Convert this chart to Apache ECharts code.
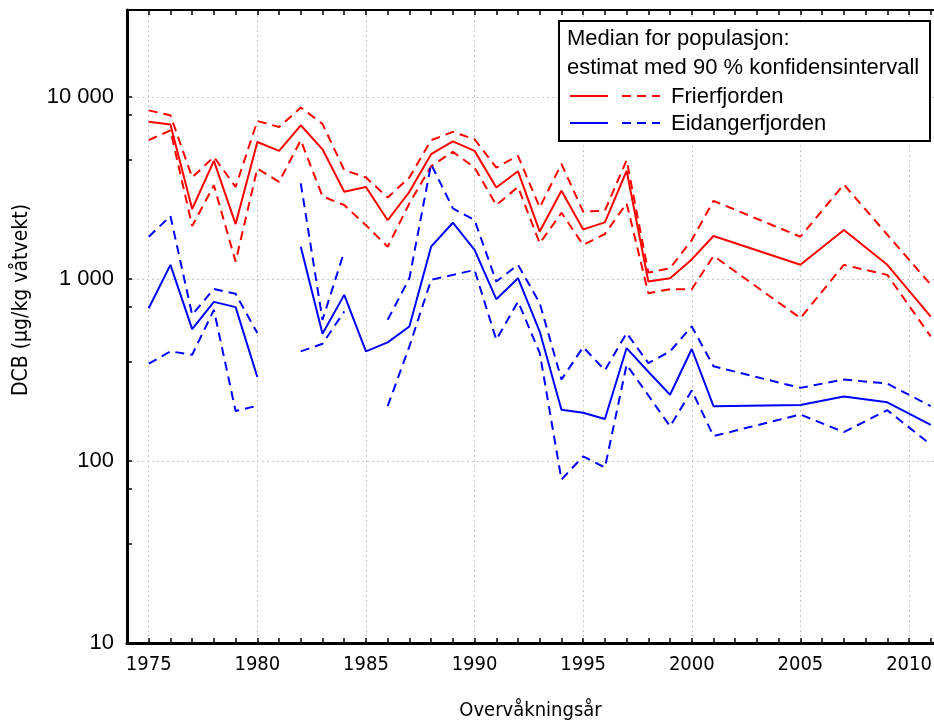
<!DOCTYPE html>
<html>
<head>
<meta charset="utf-8">
<script src="https://cdn.jsdelivr.net/npm/echarts@6/dist/echarts.min.js"></script>
<style>
  html, body { margin: 0; padding: 0; background: #fff; }
  #chart { width: 934px; height: 724px; }
</style>
</head>
<body>
<div id="chart"></div>
<script>
// years with data (2002-2004, 2006, 2008, 2010 missing)
const years = [1975, 1976, 1977, 1978, 1979, 1980, 1981, 1982, 1983, 1984, 1985, 1986, 1987, 1988, 1989, 1990,
  1991, 1992, 1993, 1994, 1995, 1996, 1997, 1998, 1999, 2000, 2001, 2005, 2007, 2009, 2011]

// Frierfjorden: median + 90 % interval
const friMedian = [7300, 7050, 2420, 4450, 2000, 5650, 5050, 6980, 5150, 3010, 3200, 2100, 3010, 4840, 5700, 5050,
  3180, 3900, 1820, 3050, 1870, 2045, 3925, 967, 1008, 1280, 1720, 1195, 1855, 1195, 621]
const friUpper = [8430, 7920, 3610, 4680, 3200, 7370, 6830, 8730, 7100, 3960, 3610, 2800, 3610, 5780, 6420, 5850,
  4090, 4740, 2470, 4280, 2340, 2370, 4490, 1083, 1145, 1636, 2685, 1705, 3300, 1750, 930]
const friLower = [5780, 6550, 1950, 3270, 1244, 4040, 3410, 5780, 2840, 2545, 1970, 1503, 2600, 4160, 4990, 4090,
  2545, 3200, 1568, 2310, 1536, 1765, 2600, 835, 878, 878, 1337, 609, 1194, 1052, 483]

// Eidangerfjorden (null = no data)
const eidMedian = [690, 1194, 530, 748, 700, 289, null, 1503, 500, 817, 400, 448, 548, 1503, 2035, 1442,
  774, 1009, 514, 191, 184, 170, 417, 309, 231, 412, 200, 203, 226, 210, 158]
const eidUpper = [1705, 2215, 635, 881, 828, 504, null, 3345, 596, 1412, null, 596, 1009, 4270, 2440, 2105,
  967, 1194, 736, 280, 422, 315, 504, 345, 400, 548, 331, 252, 280, 266, 200]
const eidLower = [342, 400, 383, 676, 188, 201, null, 400, 440, 662, null, 200, 426, 988, 1052, 1120,
  463, 751, 392, 79, 106, 92, 338, 229, 155, 244, 137, 180, 144, 190, 123]

const yearTicks = []
for (let y = 1975; y <= 2011; y++) yearTicks.push(y)
const yearLabels = [1975, 1980, 1985, 1990, 1995, 2000, 2005, 2010]
const decades = [10, 100, 1000, 10000]
const leftTicks = [10, 35, 70, 100, 350, 700, 1000, 4500, 8000, 10000]

const legendTitle = ['Median for populasjon:', 'estimat med 90 % konfidensintervall']
const legendNames = ['Frierfjorden', 'Eidangerfjorden']
const yTitle = 'DCB (µg/kg våtvekt)'
const RED = '#ff0000'
const BLUE = '#0000ff'

const FONT = "'Liberation Sans', Arial, sans-serif"
const NARROW = "'Liberation Sans Narrow', 'DejaVu Sans Condensed', sans-serif"

function pairs(vals) {
  return years.map((y, i) => [y, vals[i]])
}

function line(name, vals, color, dashed) {
  return {
    name: name,
    type: 'line',
    xAxisIndex: 0,
    yAxisIndex: 0,
    data: pairs(vals),
    symbol: 'none',
    connectNulls: false,
    animation: false,
    lineStyle: { color: color, width: 2, type: dashed ? [9, 6] : 'solid' }
  }
}

function fmtThousands(v) {
  return String(Math.round(v)).replace(/\B(?=(\d{3})+(?!\d))/g, ' ')
}

const xMin = 1974
const xMax = 2011.15
const gridLine = { show: true, lineStyle: { color: '#c8c8c8', type: [2, 3], width: 1 } }

const chartOptions = {
  animation: false,
  backgroundColor: '#fff',
  grid: { left: 127, right: 0, top: 10, bottom: 81, outerBoundsMode: 'none', containLabel: false },
  xAxis: [
    {
      type: 'value', position: 'bottom', min: xMin, max: xMax,
      name: 'Overvåkningsår', nameLocation: 'middle', nameGap: 58,
      nameTextStyle: { fontFamily: NARROW, fontSize: 20, color: '#000' },
      axisLine: { show: true, lineStyle: { color: '#000', width: 3 } },
      axisTick: { show: true, inside: true, length: 5, customValues: yearTicks, lineStyle: { color: '#000', width: 1.5 } },
      axisLabel: { customValues: yearLabels, formatter: v => String(v), fontFamily: NARROW, fontSize: 20, color: '#000', margin: 12 },
      splitLine: { show: false }
    },
    {
      // dotted grid lines every 5 years
      type: 'value', position: 'bottom', min: xMin, max: xMax,
      axisLine: { show: false },
      axisTick: { show: false, customValues: yearLabels },
      axisLabel: { show: false },
      splitLine: gridLine
    },
    {
      type: 'value', position: 'top', min: xMin, max: xMax,
      axisLine: { show: true, lineStyle: { color: '#000', width: 2 } },
      axisTick: { show: true, inside: true, length: 5, customValues: yearTicks, lineStyle: { color: '#000', width: 1.5 } },
      axisLabel: { show: false },
      splitLine: { show: false }
    }
  ],
  yAxis: [
    {
      type: 'log', logBase: 10, min: 10, max: 30000, position: 'left',
      axisLine: { show: true, lineStyle: { color: '#000', width: 3 } },
      axisTick: { show: true, inside: true, length: 5, customValues: leftTicks, lineStyle: { color: '#000', width: 1.5 } },
      axisLabel: { customValues: decades, formatter: fmtThousands, fontFamily: FONT, fontSize: 22, color: '#000', margin: 13 },
      splitLine: { show: false }
    },
    {
      // dotted grid lines at decades
      type: 'log', logBase: 10, min: 10, max: 30000, position: 'left',
      axisLine: { show: false },
      axisTick: { show: false, customValues: decades },
      axisLabel: { show: false },
      splitLine: gridLine
    }
  ],
  series: [
    line('Frierfjorden', friMedian, RED, false),
    line('Frierfjorden øvre', friUpper, RED, true),
    line('Frierfjorden nedre', friLower, RED, true),
    line('Eidangerfjorden', eidMedian, BLUE, false),
    line('Eidangerfjorden øvre', eidUpper, BLUE, true),
    line('Eidangerfjorden nedre', eidLower, BLUE, true)
  ],
  graphic: [
    // y axis title sits a bit above the plot centre in the original
    { type: 'text', x: 22, y: 300, rotation: Math.PI / 2,
      style: { text: yTitle, font: '21px ' + NARROW, fill: '#000', textAlign: 'center', textVerticalAlign: 'middle' } },
    // legend box drawn by hand (solid + dashed sample per row)
    { type: 'rect', shape: { x: 559, y: 21, width: 371, height: 120 }, style: { fill: '#fff', stroke: '#000', lineWidth: 2 }, z: 100 },
    { type: 'text', x: 567, y: 39, style: { text: legendTitle[0], font: '22px ' + FONT, fill: '#000', textVerticalAlign: 'middle' }, z: 101 },
    { type: 'text', x: 567, y: 68, style: { text: legendTitle[1], font: '22px ' + FONT, fill: '#000', textVerticalAlign: 'middle' }, z: 101 },
    { type: 'line', shape: { x1: 570, y1: 96, x2: 608, y2: 96 }, style: { stroke: RED, lineWidth: 2 }, z: 101 },
    { type: 'line', shape: { x1: 622, y1: 96, x2: 660, y2: 96 }, style: { stroke: RED, lineWidth: 2, lineDash: [9, 6] }, z: 101 },
    { type: 'text', x: 671, y: 97, style: { text: legendNames[0], font: '22px ' + FONT, fill: '#000', textVerticalAlign: 'middle' }, z: 101 },
    { type: 'line', shape: { x1: 570, y1: 123, x2: 608, y2: 123 }, style: { stroke: BLUE, lineWidth: 2 }, z: 101 },
    { type: 'line', shape: { x1: 622, y1: 123, x2: 660, y2: 123 }, style: { stroke: BLUE, lineWidth: 2, lineDash: [9, 6] }, z: 101 },
    { type: 'text', x: 671, y: 124, style: { text: legendNames[1], font: '22px ' + FONT, fill: '#000', textVerticalAlign: 'middle' }, z: 101 }
  ]
}

let myChart = null
try {
  let elm = document.getElementById('chart')
  myChart = echarts.init(elm, null, { renderer: 'canvas' })
  myChart.setOption(chartOptions)
} catch (e) {
  console.error('ECHARTS', e.message)
}
</script>
</body>
</html>
